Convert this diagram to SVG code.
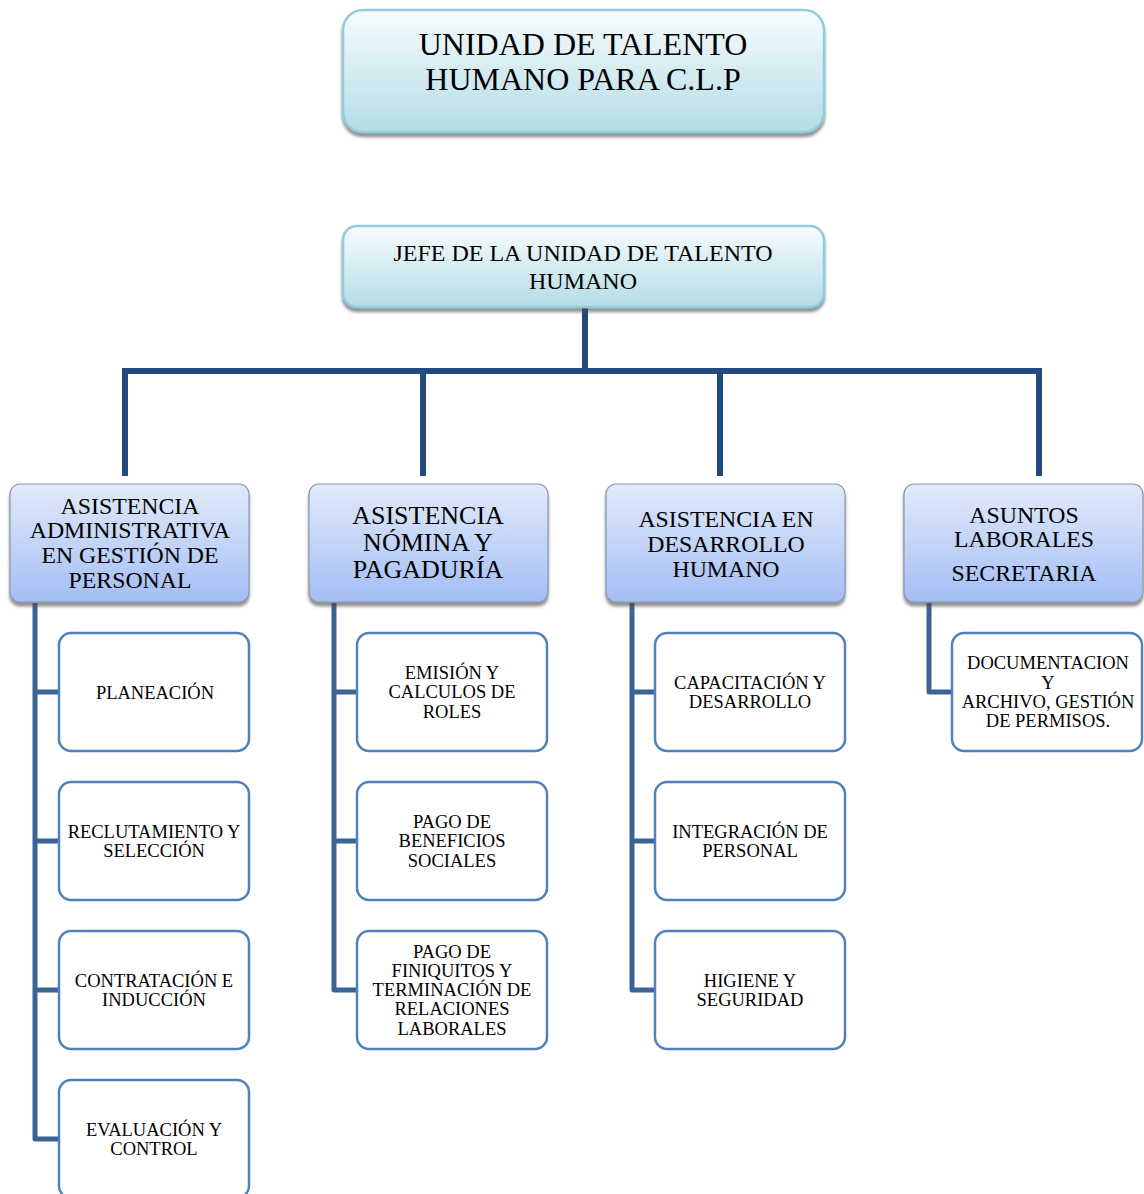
<svg xmlns="http://www.w3.org/2000/svg" width="1144" height="1194" viewBox="0 0 1144 1194">
<defs>
<linearGradient id="gTop" x1="0" y1="0" x2="0" y2="1">
<stop offset="0" stop-color="#f7fcfd"/>
<stop offset="1" stop-color="#b5dce7"/>
</linearGradient>
<linearGradient id="gMid" x1="0" y1="0" x2="0" y2="1">
<stop offset="0" stop-color="#e2eafa"/>
<stop offset="1" stop-color="#a3bef4"/>
</linearGradient>
<filter id="sh" x="-10%" y="-10%" width="120%" height="130%">
<feDropShadow dx="0" dy="4" stdDeviation="1.8" flood-color="#4a4a4a" flood-opacity="0.6"/>
</filter>
</defs>
<style>
text{font-family:"Liberation Serif","Times New Roman",serif;fill:#000;text-anchor:middle}
.top{fill:url(#gTop);stroke:#92cbdb;stroke-width:2.5}
.mid{fill:url(#gMid);stroke:#8a97ad;stroke-width:1.2}
.leaf{fill:#fff;stroke:#4f81bd;stroke-width:2.5}
.t1{font-size:32px}
.t2{font-size:24px}
.t3{font-size:23.8px}
.t3b{font-size:26px}
.t4{font-size:18.5px}
.c1{stroke:#234a80;stroke-width:6;fill:none}
.c2{stroke:#3b6396;stroke-width:5;fill:none;stroke-linejoin:round}
</style>

<g id="connectors">
<path class="c1" d="M585,308 V371 M122,371 H1042 M125,371 V476 M423,371 V476 M720,371 V476 M1039,371 V476"/>
<path class="c2" d="M35,603 V1139 H58 M35,692 H58 M35,841 H58 M35,990 H58"/>
<path class="c2" d="M334,603 V990 H356 M334,692 H356 M334,841 H356"/>
<path class="c2" d="M632,603 V990 H654 M632,692 H654 M632,841 H654"/>
<path class="c2" d="M929,603 V692 H951"/>
</g>

<g id="title">
<rect class="top" x="343" y="10" width="481" height="122" rx="20" filter="url(#sh)"/>
<text class="t1" x="583" y="55">UNIDAD DE TALENTO</text>
<text class="t1" x="583" y="90">HUMANO PARA C.L.P</text>
</g>

<g id="jefe">
<rect class="top" x="343" y="226" width="481" height="81" rx="14" filter="url(#sh)"/>
<text class="t2" x="583" y="261">JEFE DE LA UNIDAD DE TALENTO</text>
<text class="t2" x="583" y="289">HUMANO</text>
</g>

<g id="asist-admin">
<rect class="mid" x="10" y="484" width="239" height="118" rx="10" filter="url(#sh)"/>
<text class="t3" x="130" y="514">ASISTENCIA</text>
<text class="t3" x="130" y="538">ADMINISTRATIVA</text>
<text class="t3" x="130" y="563">EN GESTIÓN DE</text>
<text class="t3" x="130" y="588">PERSONAL</text>
</g>

<g id="asist-nomina">
<rect class="mid" x="309" y="484" width="239" height="118" rx="10" filter="url(#sh)"/>
<text class="t3b" x="428" y="524">ASISTENCIA</text>
<text class="t3b" x="428" y="551">NÓMINA Y</text>
<text class="t3b" x="428" y="578">PAGADURÍA</text>
</g>

<g id="asist-desarrollo">
<rect class="mid" x="606" y="484" width="239" height="118" rx="10" filter="url(#sh)"/>
<text class="t3" x="726" y="527">ASISTENCIA EN</text>
<text class="t3" x="726" y="552">DESARROLLO</text>
<text class="t3" x="726" y="577">HUMANO</text>
</g>

<g id="asuntos">
<rect class="mid" x="904" y="484" width="239" height="118" rx="10" filter="url(#sh)"/>
<text class="t3" x="1024" y="523">ASUNTOS</text>
<text class="t3" x="1024" y="547">LABORALES</text>
<text class="t3" x="1024" y="581">SECRETARIA</text>
</g>

<g id="planeacion">
<rect class="leaf" x="59" y="633" width="190" height="118" rx="12"/>
<text class="t4" x="155" y="699">PLANEACIÓN</text>
</g>
<g id="reclutamiento">
<rect class="leaf" x="59" y="782" width="190" height="118" rx="12"/>
<text class="t4" x="154" y="838">RECLUTAMIENTO Y</text>
<text class="t4" x="154" y="857">SELECCIÓN</text>
</g>
<g id="contratacion">
<rect class="leaf" x="59" y="931" width="190" height="118" rx="12"/>
<text class="t4" x="154" y="987">CONTRATACIÓN E</text>
<text class="t4" x="154" y="1006">INDUCCIÓN</text>
</g>
<g id="evaluacion">
<rect class="leaf" x="59" y="1080" width="190" height="118" rx="12"/>
<text class="t4" x="154" y="1136">EVALUACIÓN Y</text>
<text class="t4" x="154" y="1155">CONTROL</text>
</g>

<g id="emision">
<rect class="leaf" x="357" y="633" width="190" height="118" rx="12"/>
<text class="t4" x="452" y="679">EMISIÓN Y</text>
<text class="t4" x="452" y="698">CALCULOS DE</text>
<text class="t4" x="452" y="718">ROLES</text>
</g>
<g id="beneficios">
<rect class="leaf" x="357" y="782" width="190" height="118" rx="12"/>
<text class="t4" x="452" y="828">PAGO DE</text>
<text class="t4" x="452" y="847">BENEFICIOS</text>
<text class="t4" x="452" y="867">SOCIALES</text>
</g>
<g id="finiquitos">
<rect class="leaf" x="357" y="931" width="190" height="118" rx="12"/>
<text class="t4" x="452" y="958">PAGO DE</text>
<text class="t4" x="452" y="977">FINIQUITOS Y</text>
<text class="t4" x="452" y="996">TERMINACIÓN DE</text>
<text class="t4" x="452" y="1015">RELACIONES</text>
<text class="t4" x="452" y="1035">LABORALES</text>
</g>

<g id="capacitacion">
<rect class="leaf" x="655" y="633" width="190" height="118" rx="12"/>
<text class="t4" x="750" y="689">CAPACITACIÓN Y</text>
<text class="t4" x="750" y="708">DESARROLLO</text>
</g>
<g id="integracion">
<rect class="leaf" x="655" y="782" width="190" height="118" rx="12"/>
<text class="t4" x="750" y="838">INTEGRACIÓN DE</text>
<text class="t4" x="750" y="857">PERSONAL</text>
</g>
<g id="higiene">
<rect class="leaf" x="655" y="931" width="190" height="118" rx="12"/>
<text class="t4" x="750" y="987">HIGIENE Y</text>
<text class="t4" x="750" y="1006">SEGURIDAD</text>
</g>

<g id="documentacion">
<rect class="leaf" x="952" y="633" width="190" height="118" rx="12"/>
<text class="t4" x="1048" y="669">DOCUMENTACION</text>
<text class="t4" x="1048" y="689">Y</text>
<text class="t4" x="1048" y="708">ARCHIVO, GESTIÓN</text>
<text class="t4" x="1048" y="727">DE PERMISOS.</text>
</g>
</svg>
